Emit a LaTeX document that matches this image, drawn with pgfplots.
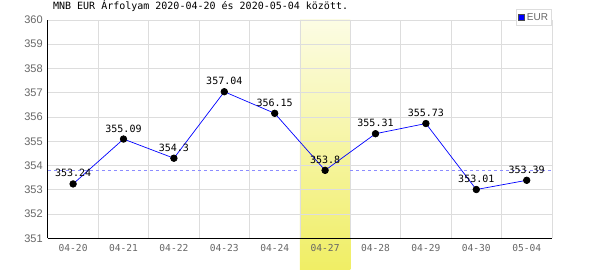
\documentclass[border=0pt]{standalone}
\usepackage{pgfplots}
\pgfplotsset{compat=1.18}
\usepackage{pgfplotstable}
\usetikzlibrary{backgrounds}
\usepackage{fontspec}
\setmainfont{Liberation Sans}
\newfontfamily\monofont{DejaVu Sans Mono}
\definecolor{gridgray}{RGB}{221,221,221}
\definecolor{ticktext}{RGB}{102,102,102}
\definecolor{linblue}{RGB}{0,0,255}
\definecolor{dashblue}{RGB}{140,140,255}
\definecolor{bandtop}{RGB}{252,252,228}
\definecolor{bandbot}{RGB}{240,238,100}

\pgfplotstableread{
x y lab
0 353.24 353.24
1 355.09 355.09
2 354.3 354.3
3 357.04 357.04
4 356.15 356.15
5 353.8 353.8
6 355.31 355.31
7 355.73 355.73
8 353.01 353.01
9 353.39 353.39
}\ratedata

\begin{document}
\begin{tikzpicture}
\path[use as bounding box] (0,0) rectangle (600pt,270pt);
\begin{axis}[
  at={(47.9pt,31.7pt)}, anchor=south west,
  scale only axis, width=504pt, height=218.4pt,
  xmin=-0.5, xmax=9.5, ymin=351, ymax=360,
  ytick={351,352,...,360},
  xtick={0,...,9},
  xticklabels={04-20,04-21,04-22,04-23,04-24,04-27,04-28,04-29,04-30,05-04},
  minor xtick={-0.5,0.5,...,9.5},
  xminorgrids, ymajorgrids,
  grid style={gridgray, line width=0.8pt},
  minor grid style={gridgray, line width=0.8pt},
  axis x line*=bottom, axis y line*=left,
  axis line style={black, line width=0.8pt, -},
  major tick length=0pt, minor tick length=0pt,
  clip=false,
  /pgf/number format/assume math mode=true,
  xticklabel style={font=\monofont\fontsize{9.6}{11}\selectfont, text=ticktext, anchor=north, inner sep=0pt, yshift=-6pt},
  yticklabel style={font=\fontsize{11}{13}\selectfont, text=ticktext, anchor=east, inner sep=0pt, xshift=-5pt},
  title={MNB EUR Árfolyam 2020-04-20 és 2020-05-04 között.},
  title style={at={(0,1)}, anchor=base west, font=\monofont\fontsize{10}{12}\selectfont, inner sep=0pt, xshift=5pt, yshift=4pt},
  legend style={at={(1,1)}, anchor=north east, yshift=10.5pt,
    draw=gridgray, line width=0.8pt, fill=white,
    font=\fontsize{10}{12}\selectfont\color{ticktext}, inner sep=1.5pt,
    legend cell align=left},
]
\addplot[dashblue, line width=0.8pt, dash pattern=on 3pt off 3pt, forget plot]
  coordinates {(-0.5,353.8) (4.5,353.8)};
\addplot[dashblue, line width=0.8pt, dash pattern=on 3pt off 3pt, forget plot]
  coordinates {(5.5,353.8) (9.5,353.8)};
\addplot[linblue, line width=0.7pt, mark=*, mark size=3.3pt,
  mark options={draw=black, fill=black, solid},
  nodes near coords, point meta=explicit symbolic,
  nodes near coords style={font=\monofont\fontsize{10}{12}\selectfont, text=black, anchor=base, inner sep=0pt, yshift=7pt},
  legend image code/.code={\draw[fill=blue, draw=black!70, line width=0.5pt] (0pt,-3pt) rectangle (6pt,3pt);}]
  table[x=x, y=y, meta=lab]{\ratedata};
\addlegendentry{EUR}
\coordinate (bandbl) at (axis cs:4.5,349.69);
\coordinate (bandtr) at (axis cs:5.5,360);
\end{axis}
\begin{pgfonlayer}{background}
\shade[top color=bandtop, bottom color=bandbot] (bandbl) rectangle (bandtr);
\end{pgfonlayer}
\end{tikzpicture}
\end{document}
